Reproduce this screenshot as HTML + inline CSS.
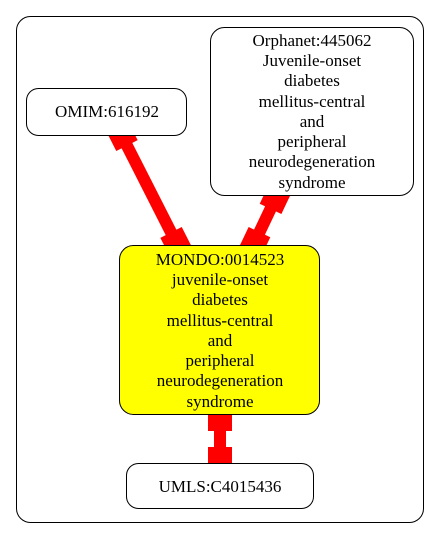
<!DOCTYPE html>
<html><head><meta charset="utf-8"><style>body{margin:0;background:#fff}svg{display:block}svg text{font-family:"Times New Roman",Times,"Liberation Serif","Nimbus Roman","DejaVu Serif",serif;font-size:17px;fill:#000}</style></head><body>
<svg width="440" height="539" viewBox="0 0 440 539">
<rect x="16.5" y="16.5" width="407" height="506" rx="14" fill="#fff" stroke="#000"/>
<g id="edges"></g>
<g><rect x="26.5" y="88.5" width="160" height="47" rx="12" fill="#fff" stroke="#000"/><text x="107" y="117" text-anchor="middle">OMIM:616192</text></g>
<g><rect x="210.5" y="27.5" width="203" height="168" rx="14" fill="#fff" stroke="#000"/>
<text text-anchor="middle" x="312"><tspan x="312" y="46">Orphanet:445062</tspan><tspan x="312" y="66">Juvenile-onset</tspan><tspan x="312" y="86">diabetes</tspan><tspan x="312" y="107">mellitus-central</tspan><tspan x="312" y="127">and</tspan><tspan x="312" y="147">peripheral</tspan><tspan x="312" y="167">neurodegeneration</tspan><tspan x="312" y="188">syndrome</tspan></text></g>
<g><rect x="119.5" y="245.5" width="200" height="169" rx="14" fill="#ffff00" stroke="#000"/>
<text text-anchor="middle"><tspan x="220" y="265">MONDO:0014523</tspan><tspan x="220" y="285">juvenile-onset</tspan><tspan x="220" y="305">diabetes</tspan><tspan x="220" y="326">mellitus-central</tspan><tspan x="220" y="346">and</tspan><tspan x="220" y="366">peripheral</tspan><tspan x="220" y="386">neurodegeneration</tspan><tspan x="220" y="407">syndrome</tspan></text></g>
<g><rect x="126.5" y="463.5" width="187" height="45" rx="12" fill="#fff" stroke="#000"/><text x="220" y="492" text-anchor="middle">UMLS:C4015436</text></g>
</svg>
<script>
const edges=[[117,126,181,252,'edge-omim-mondo'],[280,189,250,252,'edge-orphanet-mondo'],[220,409,220,469,'edge-mondo-umls']];
const g=document.getElementById('edges');const NS='http://www.w3.org/2000/svg';
edges.forEach(e=>{const[x1,y1,x2,y2,n]=e;const dx=x2-x1,dy=y2-y1,L=Math.hypot(dx,dy),a=Math.atan2(dy,dx)*180/Math.PI;
const grp=document.createElementNS(NS,'g');


grp.setAttribute('transform',`translate(${x1},${y1}) rotate(${a})`);
grp.innerHTML=`<rect x="0" y="-6" width="${L}" height="12" fill="#f00"/><rect x="0" y="-12" width="22" height="24" fill="#f00"/><rect x="${L-22}" y="-12" width="22" height="24" fill="#f00"/>`;
g.appendChild(grp);});
</script>
</body></html>
